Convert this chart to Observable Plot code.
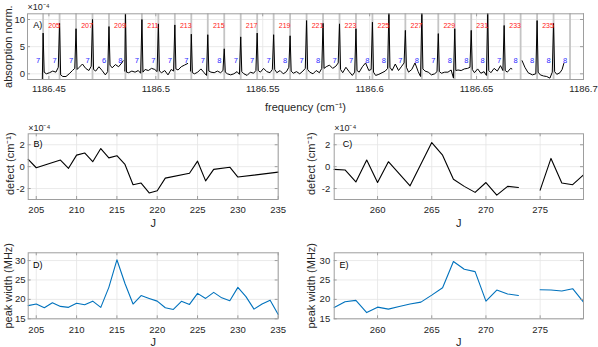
<!DOCTYPE html>
<html><head><meta charset="utf-8">
<script src="https://cdn.jsdelivr.net/npm/d3@7"></script>
<script src="https://cdn.jsdelivr.net/npm/@observablehq/plot@0.6"></script>
<style>
body{margin:0;background:#fff;}
#c{position:relative;width:598px;height:347px;background:#fff;}
</style></head><body><div id="c"></div>
<script>
// ---------- DATA ----------
const freqTicks = [1186.45, 1186.5, 1186.55, 1186.6, 1186.65, 1186.7];
const absTicks = [0, 5, 10];
const defectTicks = [-2, 0, 2];
const widthTicks = [15, 20, 25, 30];
const jTicksLow = [205, 210, 215, 220, 225, 230, 235];
const jTicksHigh = [260, 265, 270, 275];

// marked line positions (cm^-1) and their J
const peakFreq = [1186.4473,1186.4550,1186.4627,1186.4704,1186.4781,1186.4858,1186.4935,1186.5012,1186.5089,1186.5166,1186.5243,1186.5320,1186.5397,1186.5474,1186.5551,1186.5628,1186.5705,1186.5782,1186.5859,1186.5936,1186.6013,1186.6090,1186.6167,1186.6244,1186.6321,1186.6398,1186.6475,1186.6552,1186.6629,1186.6706,1186.6783,1186.6860,1186.6937];
const peakJ = [204,205,206,207,208,209,210,211,212,213,214,215,216,217,218,219,220,221,222,223,224,225,226,227,228,229,230,231,232,233,234,235,236];
const kaLabels = [7,7,7,7,6,8,7,7,7,7,7,8,7,7,7,8,7,8,7,7,8,8,7,8,7,8,8,8,7,8,8,8,8];
const redLabelLevel = 8.9, blueLabelLevel = 2.5;

// spectrum (freq cm^-1, absorption x1e-4); null rows = gaps
const spectrum = [
[1186.4469,-1.6],[1186.4473,7.5],
[1186.4478,0.3],[1186.4488,0.0],[1186.4503,0.2],[1186.4518,0.5],[1186.4533,0.3],[1186.4544,1.2],
[1186.4550,9.3],
[1186.4555,-0.2],[1186.4565,-0.5],[1186.4580,-0.5],[1186.4595,0.0],[1186.4610,0.6],[1186.4621,1.0],
[1186.4627,8.3],
[1186.4632,0.8],[1186.4642,1.2],[1186.4657,1.8],[1186.4672,1.0],[1186.4687,0.6],[1186.4698,1.4],
[1186.4704,10.0],
[1186.4709,0.8],[1186.4719,0.5],[1186.4734,1.3],[1186.4749,0.6],[1186.4764,-0.2],[1186.4775,0.4],
[1186.4781,8.7],
[1186.4786,1.6],[1186.4796,1.1],[1186.4811,1.7],[1186.4826,1.3],[1186.4841,2.0],[1186.4847,2.4],
[null,null],
[1186.4855,0.5],[1186.4858,11.0],
[1186.4863,0.3],[1186.4873,0.2],[1186.4888,0.5],[1186.4903,0.3],[1186.4918,0.6],[1186.4929,0.1],
[1186.4935,10.0],
[1186.4940,0.3],[1186.4950,0.8],[1186.4965,0.6],[1186.4980,1.0],[1186.4995,0.8],[1186.5006,0.4],
[1186.5012,9.2],
[1186.5017,0.5],[1186.5027,0.2],[1186.5042,0.6],[1186.5057,-0.2],[1186.5072,0.8],[1186.5083,0.5],
[1186.5089,9.0],
[1186.5094,0.9],[1186.5104,0.7],[1186.5119,1.3],[1186.5134,1.6],[1186.5149,1.9],
[null,null],
[1186.5162,0.5],[1186.5166,7.3],
[1186.5171,0.2],[1186.5181,0.0],[1186.5196,0.3],[1186.5211,0.9],[1186.5226,0.2],[1186.5237,-0.3],
[1186.5243,7.2],
[1186.5248,0.5],[1186.5258,0.3],[1186.5273,0.2],[1186.5288,0.5],[1186.5303,0.2],[1186.5314,0.6],
[1186.5320,4.6],
[1186.5325,0.3],[1186.5335,0.0],[1186.5350,-0.2],[1186.5365,0.0],[1186.5380,0.4],[1186.5391,-0.1],
[1186.5397,6.8],
[1186.5402,0.4],[1186.5412,0.0],[1186.5427,-0.3],[1186.5442,0.3],[1186.5457,0.1],[1186.5468,0.6],
[1186.5474,7.5],
[1186.5479,0.6],[1186.5489,0.3],[1186.5504,1.0],[1186.5519,0.4],[1186.5534,0.2],[1186.5545,0.8],
[1186.5551,7.2],
[1186.5556,0.8],[1186.5566,0.2],[1186.5581,0.6],[1186.5596,0.0],[1186.5611,0.4],[1186.5622,1.2],
[1186.5628,7.0],
[1186.5633,0.5],[1186.5643,0.1],[1186.5658,0.4],[1186.5673,0.0],[1186.5688,0.5],[1186.5699,1.0],
[1186.5705,9.8],
[1186.5710,0.8],[1186.5720,0.3],[1186.5735,0.0],[1186.5750,0.6],[1186.5765,0.2],[1186.5776,1.0],
[1186.5782,9.3],
[1186.5787,1.0],[1186.5797,1.3],[1186.5812,1.6],[1186.5827,1.0],[1186.5842,1.4],[1186.5853,2.0],
[1186.5859,9.2],
[1186.5864,0.8],[1186.5874,0.2],[1186.5889,1.2],[1186.5904,0.4],[1186.5919,-0.3],[1186.5930,0.3],
[1186.5936,8.3],
[1186.5941,0.6],[1186.5951,0.3],[1186.5966,1.3],[1186.5981,2.0],[1186.5996,0.6],[1186.6007,0.8],
[1186.6013,9.5],
[1186.6018,0.3],[1186.6028,-0.3],[1186.6043,-0.1],[1186.6058,0.2],[1186.6073,0.5],[1186.6084,1.0],
[1186.6090,11.5],
[1186.6095,1.2],[1186.6105,0.6],[1186.6120,1.8],[1186.6135,0.6],[1186.6150,1.4],[1186.6161,2.0],
[1186.6167,8.0],
[1186.6172,1.2],[1186.6182,0.3],[1186.6197,0.8],[1186.6212,2.0],[1186.6227,0.4],[1186.6238,-0.5],
[1186.6244,11.2],
[1186.6249,0.9],[1186.6259,0.5],[1186.6274,0.3],[1186.6289,-0.2],[1186.6304,0.0],[1186.6315,0.4],
[1186.6321,7.4],
[1186.6326,0.4],[1186.6336,0.1],[1186.6351,0.3],[1186.6366,0.3],[1186.6381,0.7],[1186.6392,-0.8],
[1186.6398,8.3],
[1186.6403,0.6],[1186.6413,0.7],[1186.6428,0.6],[1186.6443,0.9],[1186.6458,1.0],[1186.6469,1.2],
[1186.6475,8.0],
[1186.6480,0.8],[1186.6490,0.2],[1186.6505,0.9],[1186.6520,0.1],[1186.6535,0.4],[1186.6546,-0.3],
[1186.6552,11.2],
[1186.6557,0.6],[1186.6567,0.2],[1186.6582,1.0],[1186.6597,0.5],[1186.6612,1.5],[1186.6623,0.6],
[1186.6629,8.9],
[1186.6634,0.6],[1186.6644,0.3],[1186.6659,1.0],[1186.6665,0.9],
[null,null],
[1186.6713,2.4],[1186.6726,1.2],[1186.6741,0.2],[1186.6761,-0.2],[1186.6777,0.0],
[1186.6783,9.8],
[1186.6788,0.3],[1186.6798,-0.2],[1186.6813,-0.4],[1186.6828,-0.5],[1186.6843,-0.8],[1186.6854,0.3],
[1186.6860,9.3],
[1186.6865,0.4],[1186.6875,-0.1],[1186.6890,0.2],[1186.6900,0.8],[1186.6908,1.9]
];

// defect (x1e-4 cm^-1)
const jDefectLow = [204,205,208,209,210,211,212,213,214,215,216,217,218,219,220,221,224,225,226,227,229,230,235];
const defectLow  = [0.67,-0.1,0.6,-0.15,1.05,1.25,0.45,1.65,0.8,1.0,0.2,-1.65,-1.5,-2.4,-2.2,-1.05,-0.6,0.5,-1.3,-0.25,-0.05,-0.95,-0.5];
const jDefectHigh = [256,257,258,259,260,261,263,265,266,267,268,269,270,271,272,273,274,275,276,277,278,279];
const defectHigh  = [-0.25,-0.3,-1.4,0.6,-1.45,0.45,-1.75,2.2,1.05,-1.15,-1.8,-2.35,-1.45,-2.6,-1.8,-1.9,null,-2.15,0.75,-1.5,-1.65,-0.75];

// peak width (MHz)
const jWidthLow = [204,205,206,207,208,209,210,211,212,213,214,215,216,217,218,219,220,221,222,223,224,225,226,227,228,229,230,231,232,233,234,235];
const widthLow  = [18.4,18.8,17.85,19.15,18.2,17.95,19.0,18.6,19.55,17.95,23.1,30.2,24.1,18.8,21.0,20.25,19.55,17.85,17.4,19.5,18.7,21.55,20.25,21.8,20.4,19.65,23.1,20.7,17.5,18.8,19.8,16.1];
const jWidthHigh = [256,257,258,259,260,261,262,263,264,265,266,267,268,269,270,271,272,273,274,275,276,277,278,279];
const widthHigh  = [17.9,19.4,19.75,16.6,18.0,17.5,18.15,18.8,19.3,21.1,23.0,29.75,27.75,27.15,19.55,22.4,21.4,21.0,null,22.5,22.4,22.15,22.75,19.3];

// ---------- STYLE ----------
const font = '"Liberation Sans", Arial, Helvetica, sans-serif';
const ink = "#262626";
const frameColor = "#9e9e9e";
const gridColor = "#e4e4e4";
const TL = 3;
const fmtFreq = d => String(+d.toFixed(2));
const fmtNum = d => String(d);

function boxMarks(o) {
  const fw = o.width - o.ml - o.mr, fh = o.height - o.mt - o.mb;
  return {
    under: [
      Plot.gridX(o.xTicks, {stroke: gridColor, strokeOpacity: 1, strokeWidth: 0.8}),
      Plot.gridY(o.yTicks, {stroke: gridColor, strokeOpacity: 1, strokeWidth: 0.8})
    ],
    over: [
      Plot.frame({stroke: frameColor, strokeWidth: 1}),
      Plot.ruleX(o.xTicks, {x: d => d, insetTop: fh - TL, stroke: frameColor}),
      Plot.ruleX(o.xTicks, {x: d => d, insetBottom: fh - TL, stroke: frameColor}),
      Plot.ruleY(o.yTicks, {y: d => d, insetRight: fw - TL, stroke: frameColor}),
      Plot.ruleY(o.yTicks, {y: d => d, insetLeft: fw - TL, stroke: frameColor}),
      Plot.axisX(o.xTicks, {tickSize: 0, tickPadding: o.xPad, tickFormat: o.xFmt, label: null, fill: ink, fontSize: 9.5}),
      Plot.axisY(o.yTicks, {tickSize: 0, tickPadding: o.yPad, tickFormat: fmtNum, label: null, fill: ink, fontSize: 9.5}),
      Plot.text([o.xLabel], {frameAnchor: "bottom", dy: o.xLabelDy, textAnchor: "middle", lineAnchor: "middle", fill: ink, fontSize: 11}),
      Plot.text([o.yLabel], {frameAnchor: "left", dx: o.yLabelDx, dy: o.yLabelDy || 0, rotate: -90, textAnchor: "middle", lineAnchor: "middle", fill: ink, fontSize: 11}),
      Plot.text([o.tag], {frameAnchor: "top-left", dx: o.tagDx, dy: o.tagDy, textAnchor: "start", lineAnchor: "middle", fill: "#000", fontSize: 9}),
      ...(o.expo ? [Plot.text(["\u00d710\u207b\u2074"], {frameAnchor: "top-left", dx: 0, dy: o.expoDy, textAnchor: "start", lineAnchor: "middle", fill: ink, fontSize: 9})] : [])
    ]
  };
}

const container = document.getElementById("c");
function place(o, dataMarks) {
  const b = boxMarks(o);
  const el = Plot.plot({
    width: o.width, height: o.height,
    marginLeft: o.ml, marginRight: o.mr, marginTop: o.mt, marginBottom: o.mb,
    x: {domain: o.xDomain},
    y: {domain: o.yDomain},
    style: {fontFamily: font, fontSize: "9.5px", color: ink, background: "transparent", overflow: "visible"},
    marks: [...b.under, ...dataMarks, ...b.over]
  });
  Object.assign(el.style, {position: "absolute", left: o.left + "px", top: o.top + "px", overflow: "visible", background: "transparent", maxWidth: "none"});
  container.append(el);
}

// ---------- PANEL A ----------
const lineTable = peakJ.map((J, i) => ({J, f: peakFreq[i], ka: kaLabels[i]}));
place({
  left: 0, top: 0, width: 598, height: 118, ml: 27, mr: 15, mt: 13.3, mb: 39,
  xDomain: [1186.44, 1186.70], yDomain: [-1.05, 11.05],
  xTicks: freqTicks, yTicks: absTicks, xFmt: fmtFreq, xPad: 5.4, yPad: 2.5,
  xLabel: "frequency (cm\u207b\u00b9)", xLabelDy: 27.7,
  yLabel: "absorption norm.", yLabelDx: -18.7,
  tag: "A)", tagDx: 5.7, tagDy: 11.7, expo: true, expoDy: -7
}, [
  Plot.ruleX(peakFreq, {x: d => d, stroke: "#c4c4c4", strokeWidth: 1.8}),
  Plot.line(spectrum, {x: d => d[0], y: d => d[1], stroke: "#000", strokeWidth: 1, clip: true}),
  Plot.text(lineTable.filter(d => d.J % 2 === 1), {x: "f", y: () => redLabelLevel, text: d => String(d.J), dx: -5.5, fill: "#ff2020", fontSize: 7}),
  Plot.text(lineTable, {x: "f", y: () => blueLabelLevel, text: d => String(d.ka), dx: -5, fill: "#2a2aff", fontSize: 7.5})
]);

// ---------- PANEL B ----------
place({
  left: 0, top: 118, width: 298, height: 112, ml: 27.7, mr: 20.3, mt: 15.3, mb: 31,
  xDomain: [204, 235], yDomain: [-3, 3],
  xTicks: jTicksLow, yTicks: defectTicks, xFmt: fmtNum, xPad: 6.7, yPad: 3.5,
  xLabel: "J", xLabelDy: 24.3, yLabel: "defect (cm\u207b\u00b9)", yLabelDx: -17.7, yLabelDy: -3,
  tag: "B)", tagDx: 5.3, tagDy: 10, expo: true, expoDy: -6
}, [
  Plot.line(jDefectLow.map((J, i) => [J, defectLow[i]]), {x: d => d[0], y: d => d[1], stroke: "#000", strokeWidth: 1.1})
]);

// ---------- PANEL C ----------
place({
  left: 298, top: 118, width: 300, height: 112, ml: 35.7, mr: 15, mt: 15.3, mb: 31,
  xDomain: [256, 279], yDomain: [-3, 3],
  xTicks: jTicksHigh, yTicks: defectTicks, xFmt: fmtNum, xPad: 6.7, yPad: 4,
  xLabel: "J", xLabelDy: 24.3, yLabel: "defect (cm\u207b\u00b9)", yLabelDx: -22.7, yLabelDy: -3,
  tag: "C)", tagDx: 8.5, tagDy: 10, expo: true, expoDy: -6
}, [
  Plot.line(jDefectHigh.map((J, i) => [J, defectHigh[i]]), {x: d => d[0], y: d => d[1], stroke: "#000", strokeWidth: 1.1})
]);

// ---------- PANEL D ----------
place({
  left: 0, top: 232, width: 298, height: 115, ml: 27.7, mr: 20.3, mt: 20.3, mb: 28.7,
  xDomain: [204, 235], yDomain: [15, 32],
  xTicks: jTicksLow, yTicks: widthTicks, xFmt: fmtNum, xPad: 7, yPad: 2.7,
  xLabel: "J", xLabelDy: 23.4, yLabel: "peak width (MHz)", yLabelDx: -19.4,
  tag: "D)", tagDx: 4.8, tagDy: 12.7, expo: false
}, [
  Plot.line(jWidthLow.map((J, i) => [J, widthLow[i]]), {x: d => d[0], y: d => d[1], stroke: "#0072bd", strokeWidth: 1.1})
]);

// ---------- PANEL E ----------
place({
  left: 298, top: 232, width: 300, height: 115, ml: 35.7, mr: 15, mt: 20.3, mb: 28.7,
  xDomain: [256, 279], yDomain: [15, 32],
  xTicks: jTicksHigh, yTicks: widthTicks, xFmt: fmtNum, xPad: 7, yPad: 4,
  xLabel: "J", xLabelDy: 23.4, yLabel: "peak width (MHz)", yLabelDx: -22.4,
  tag: "E)", tagDx: 5.3, tagDy: 12.7, expo: false
}, [
  Plot.line(jWidthHigh.map((J, i) => [J, widthHigh[i]]), {x: d => d[0], y: d => d[1], stroke: "#0072bd", strokeWidth: 1.1})
]);
</script></body></html>
